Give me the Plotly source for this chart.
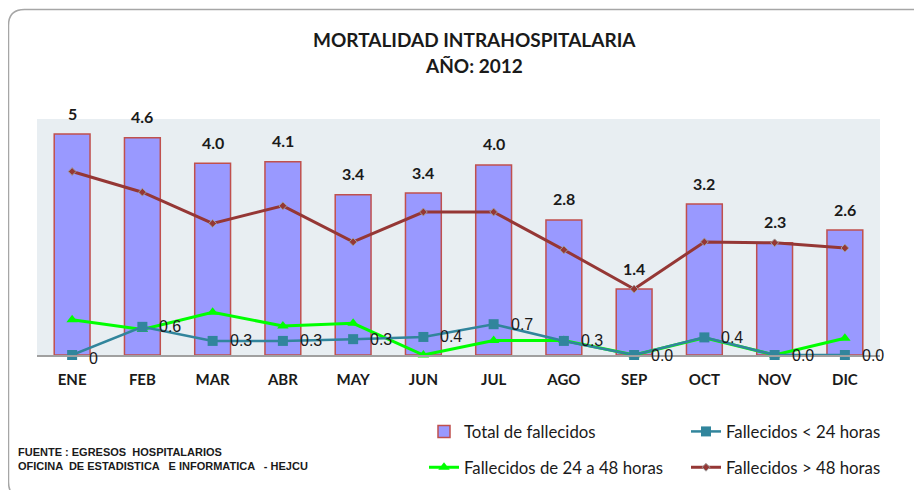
import plotly.graph_objects as go

meses = ["ENE", "FEB", "MAR", "ABR", "MAY", "JUN", "JUL", "AGO", "SEP", "OCT", "NOV", "DIC"]
total = [5.02, 4.94, 4.36, 4.39, 3.64, 3.68, 4.32, 3.07, 1.50, 3.43, 2.55, 2.84]
total_txt = ["5", "4.6", "4.0", "4.1", "3.4", "3.4", "4.0", "2.8", "1.4", "3.2", "2.3", "2.6"]
menos24 = [0.0, 0.64, 0.32, 0.32, 0.36, 0.41, 0.70, 0.32, 0.0, 0.40, 0.0, 0.0]
menos24_txt = ["0", "0.6", "0.3", "0.3", "0.3", "0.4", "0.7", "0.3", "0.0", "0.4", "0.0", "0.0"]
de24a48 = [0.80, 0.58, 0.97, 0.66, 0.72, 0.0, 0.33, 0.33, 0.0, 0.39, 0.0, 0.38]
mas48 = [4.17, 3.70, 2.99, 3.39, 2.57, 3.25, 3.25, 2.39, 1.50, 2.57, 2.55, 2.43]

# the page body has an 8px margin, so the figure is drawn 8px smaller
OFF = 8
W, H = 922 - OFF, 490 - OFF
# plot area in reference pixels
L, R, T, B = 37, 880, 119, 355

def px(x):
    return (x - L) / (R - L)

def py(y):
    return (B - y) / (B - T)

def cx(x):
    return (x - OFF) / W

def cy(y):
    return 1 - (y - OFF) / H

fuente = "Lato"
negro = "#1a1a1a"

fig = go.Figure()
fig.add_trace(go.Bar(
    x=meses, y=total, name="Total de fallecidos",
    marker=dict(color="#9999FF", line=dict(color="#C0504D", width=1.5)),
    legend="legend", legendgroup="a",
))
fig.add_trace(go.Scatter(
    x=meses, y=de24a48, name="Fallecidos de 24 a 48 horas",
    mode="lines+markers", line=dict(color="#00FF00", width=3),
    marker=dict(symbol="triangle-up", size=10, color="#00FF00"),
    cliponaxis=False, legend="legend", legendgroup="b",
))
fig.add_trace(go.Scatter(
    x=meses, y=menos24, name="Fallecidos < 24 horas",
    mode="lines+markers", line=dict(color="#31859C", width=2.5),
    marker=dict(symbol="square", size=10, color="#31859C"),
    cliponaxis=False, legend="legend2", legendgroup="c",
))
fig.add_trace(go.Scatter(
    x=meses, y=mas48, name="Fallecidos > 48 horas",
    mode="lines+markers", line=dict(color="#953735", width=3),
    marker=dict(symbol="diamond", size=6, color="#953735",
                line=dict(color="#A0A0A0", width=1)),
    cliponaxis=False, legend="legend2", legendgroup="d",
))

# etiquetas de barras
for m, v, t in zip(meses, total, total_txt):
    fig.add_annotation(x=m, y=v, text=t, showarrow=False, yshift=21, yanchor="middle",
                       font=dict(family=fuente, size=16, color=negro, weight="bold"))

# etiquetas fallecidos < 24 horas
for i, (m, v, t) in enumerate(zip(meses, menos24, menos24_txt)):
    fig.add_annotation(x=m, y=v, text=t, showarrow=False, xanchor="left", yanchor="middle",
                       xshift=15, yshift=-3 if i == 0 else 0,
                       font=dict(family="Liberation Sans", size=16, color=negro))

leg = dict(font=dict(family=fuente, size=16.8, color=negro), tracegroupgap=11,
           bgcolor="rgba(0,0,0,0)", itemwidth=30, xref="container", yref="container",
           xanchor="left", yanchor="top")

fig.update_layout(
    width=W, height=H,
    margin=dict(l=L - OFF, r=W - (R - OFF), t=T - OFF, b=H - (B - OFF), autoexpand=False),
    paper_bgcolor="white", plot_bgcolor="#E8EEF2",
    bargap=0.49,
    xaxis=dict(range=[-0.5, len(meses) - 0.5], showgrid=False, showline=True,
               linecolor="#A0A0A0", linewidth=1.5,
               tickfont=dict(family=fuente, size=15, color=negro, weight="bold"),
               ticks="", ticklabelstandoff=10),
    yaxis=dict(range=[0, (B - T) / 44], visible=False, showgrid=False),
    legend=dict(x=cx(424), y=cy(414), **leg),
    legend2=dict(x=cx(686), y=cy(414), **leg),
    showlegend=True,
)

fig.add_annotation(text="MORTALIDAD INTRAHOSPITALARIA", xref="paper", yref="paper",
                   x=px(474), y=py(39), showarrow=False, yanchor="middle",
                   font=dict(family=fuente, size=19, color=negro, weight="bold"))
fig.add_annotation(text="AÑO: 2012", xref="paper", yref="paper",
                   x=px(474), y=py(66), showarrow=False, yanchor="middle",
                   font=dict(family=fuente, size=19, color=negro, weight="bold"))

# borde redondeado
x0, y0, x1, y1, r = px(8.5), py(9.5), px(935), py(498), 16
rx, ry = r / (R - L), r / (B - T)
path = (f"M {x0 + rx},{y0} L {x1 - rx},{y0} Q {x1},{y0} {x1},{y0 - ry} "
        f"L {x1},{y1 + ry} Q {x1},{y1} {x1 - rx},{y1} L {x0 + rx},{y1} "
        f"Q {x0},{y1} {x0},{y1 + ry} L {x0},{y0 - ry} Q {x0},{y0} {x0 + rx},{y0} Z")
fig.add_shape(type="path", path=path, xref="paper", yref="paper",
              line=dict(color="#A6A6A6", width=1.5), layer="below")

fig.add_annotation(text="FUENTE : EGRESOS  HOSPITALARIOS<br>OFICINA  DE ESTADISTICA   E INFORMATICA   - HEJCU",
                   xref="paper", yref="paper", x=px(16), y=py(444), xanchor="left", yanchor="top",
                   align="left", showarrow=False,
                   font=dict(family="Liberation Sans Narrow, Liberation Sans", size=11,
                             color=negro, weight="bold"))

fig.write_html("out.html")
